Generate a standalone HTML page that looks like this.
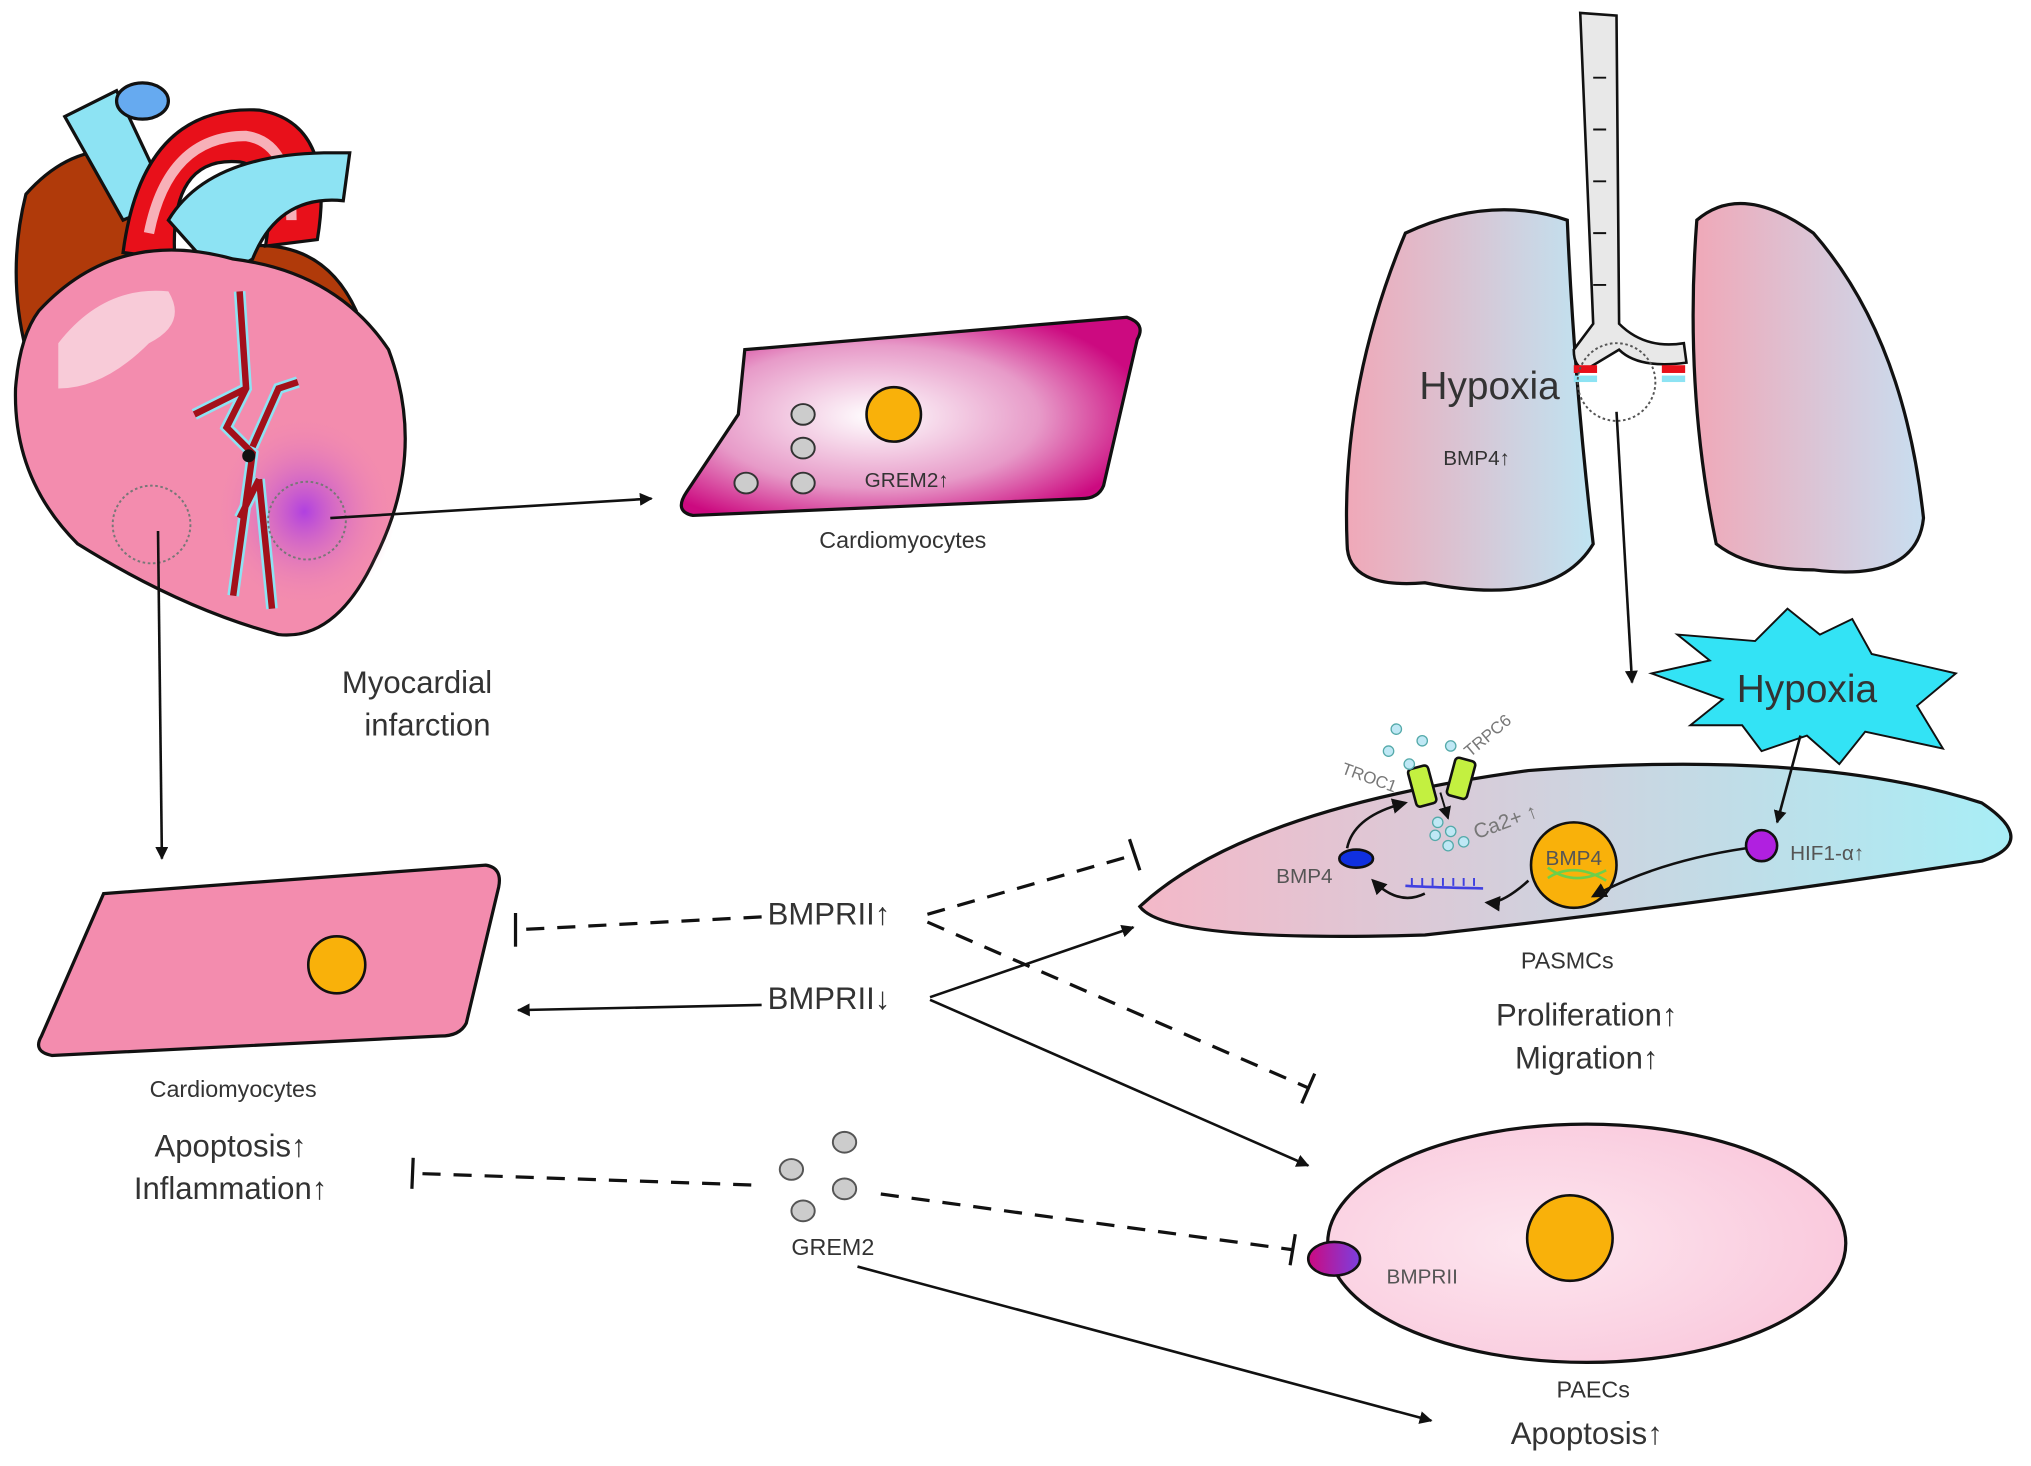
<!DOCTYPE html>
<html><head><meta charset="utf-8"><style>
html,body{margin:0;padding:0;background:#fff;}
svg{display:block;}
text{font-family:"Liberation Sans",sans-serif;fill:#333;}
</style></head><body>
<svg width="2031" height="1466" viewBox="0 0 1568 1132" preserveAspectRatio="none" xmlns="http://www.w3.org/2000/svg">
<defs>
<marker id="ah" markerWidth="10" markerHeight="10" refX="9" refY="5" orient="auto" markerUnits="userSpaceOnUse"><path d="M0,0 L10,5 L0,10 Z" fill="#111"/></marker>
<marker id="ahs" markerWidth="12" markerHeight="12" refX="10" refY="6" orient="auto" markerUnits="userSpaceOnUse"><path d="M0,0 L12,6 L0,12 Z" fill="#111"/></marker>
<radialGradient id="cm1" cx="0.42" cy="0.5" r="0.6"><stop offset="0" stop-color="#fff"/><stop offset="0.6" stop-color="#e79ac8"/><stop offset="1" stop-color="#cc0a80"/></radialGradient>
<linearGradient id="lung" x1="0" x2="1"><stop offset="0" stop-color="#f0a8b8"/><stop offset="1" stop-color="#bfe4f2"/></linearGradient>
<linearGradient id="lungR" x1="0" x2="1"><stop offset="0" stop-color="#f0a8b8"/><stop offset="1" stop-color="#c8def0"/></linearGradient>
<linearGradient id="pas" x1="0" x2="1"><stop offset="0" stop-color="#f4b8c8"/><stop offset="1" stop-color="#a8eef6"/></linearGradient>
<radialGradient id="pae" cx="0.4" cy="0.5" r="0.7"><stop offset="0" stop-color="#fde6ef"/><stop offset="1" stop-color="#f9c5da"/></radialGradient>
<radialGradient id="glow" cx="0.5" cy="0.5" r="0.5"><stop offset="0" stop-color="#b040e0"/><stop offset="1" stop-color="#f48cb0" stop-opacity="0"/></radialGradient>
<linearGradient id="rec" x1="0" x2="1"><stop offset="0" stop-color="#cc0a80"/><stop offset="1" stop-color="#7b3fe0"/></linearGradient>
</defs>

<!-- HEART -->
<path d="M20,150 Q60,105 110,120 L120,250 L20,270 Q5,210 20,150Z" fill="#b03a0a" stroke="#111" stroke-width="2.5"/>
<path d="M190,190 Q250,185 275,240 L265,260 L195,250Z" fill="#b03a0a" stroke="#111" stroke-width="2.5"/>
<path d="M50,90 L90,70 L130,155 L95,170Z" fill="#8de3f3" stroke="#111" stroke-width="2.5"/>
<ellipse cx="110" cy="78" rx="20" ry="14" fill="#66aaf0" stroke="#111" stroke-width="2.5"/>
<path d="M95,195 Q110,80 200,85 Q260,95 245,185 L205,190 Q215,130 185,125 Q130,120 135,200Z" fill="#e8101a" stroke="#111" stroke-width="2.5"/>
<path d="M115,180 Q130,105 190,105 Q225,110 225,170" fill="none" stroke="#f7b0b8" stroke-width="8"/>
<path d="M130,170 Q160,120 250,118 L270,118 L265,155 Q215,150 195,200 L170,215Z" fill="#8de3f3" stroke="#111" stroke-width="2.5"/>
<path d="M30,240 Q90,175 180,200 Q260,210 300,270 Q330,350 290,430 Q260,495 215,490 Q140,470 60,420 Q10,370 12,300 Q15,260 30,240Z" fill="#f38cae" stroke="#111" stroke-width="2.5"/>
<ellipse cx="235" cy="395" rx="70" ry="75" fill="url(#glow)"/>
<path d="M45,265 Q80,220 130,225 Q145,250 115,265 Q80,300 45,300Z" fill="#f8cbd8"/>
<path d="M185,225 L190,300 L175,330 L195,350 L180,460 M190,300 L150,320 M195,345 L215,300 L230,295 M200,370 L210,470 M200,370 L185,400" fill="none" stroke="#8de3f3" stroke-width="9"/>
<path d="M185,225 L190,300 L175,330 L195,350 L180,460 M190,300 L150,320 M195,345 L215,300 L230,295 M200,370 L210,470 M200,370 L185,400" fill="none" stroke="#a3101a" stroke-width="5"/>
<circle cx="192" cy="352" r="5" fill="#111"/>
<circle cx="117" cy="405" r="30" fill="none" stroke="#777" stroke-width="1.5" stroke-dasharray="2,2"/>
<circle cx="237" cy="402" r="30" fill="none" stroke="#777" stroke-width="1.5" stroke-dasharray="2,2"/>
<line x1="255" y1="400" x2="503" y2="385" stroke="#111" stroke-width="2" marker-end="url(#ah)"/>
<line x1="122" y1="410" x2="125" y2="663" stroke="#111" stroke-width="2" marker-end="url(#ah)"/>
<text x="322" y="535" font-size="24" text-anchor="middle">Myocardial</text>
<text x="330" y="568" font-size="24" text-anchor="middle">infarction</text>

<!-- Top cardiomyocyte -->
<path d="M575,270 L870,245 Q885,250 878,262 L852,375 Q848,385 835,385 L535,398 Q520,395 530,380 L570,320Z" fill="url(#cm1)" stroke="#111" stroke-width="2.5"/>
<circle cx="690" cy="320" r="21" fill="#f9b10a" stroke="#111" stroke-width="2"/>
<ellipse cx="620" cy="320" rx="9" ry="8" fill="#ccc" stroke="#333" stroke-width="1.5"/>
<ellipse cx="620" cy="346" rx="9" ry="8" fill="#ccc" stroke="#333" stroke-width="1.5"/>
<ellipse cx="620" cy="373" rx="9" ry="8" fill="#ccc" stroke="#333" stroke-width="1.5"/>
<ellipse cx="576" cy="373" rx="9" ry="8" fill="#ccc" stroke="#333" stroke-width="1.5"/>
<text x="700" y="376" font-size="16" text-anchor="middle">GREM2↑</text>
<text x="697" y="423" font-size="18" text-anchor="middle">Cardiomyocytes</text>

<!-- Lungs -->
<path d="M1085,180 Q1150,150 1210,170 Q1215,290 1230,420 Q1200,470 1100,450 Q1040,455 1040,420 Q1035,300 1085,180Z" fill="url(#lung)" stroke="#111" stroke-width="2.5"/>
<path d="M1310,170 Q1345,140 1400,180 Q1470,260 1485,400 Q1480,450 1400,440 Q1350,440 1325,420 Q1300,300 1310,170Z" fill="url(#lungR)" stroke="#111" stroke-width="2.5"/>
<path d="M1220,10 L1248,12 L1250,250 Q1270,270 1300,265 L1302,280 Q1265,285 1250,270 L1225,285 Q1215,285 1215,270 L1230,250Z" fill="#e8e8e8" stroke="#111" stroke-width="2"/>
<path d="M1230,60 L1240,60 M1230,100 L1240,100 M1230,140 L1240,140 M1230,180 L1240,180 M1230,220 L1240,220" stroke="#111" stroke-width="1.5"/>
<rect x="1215" y="282" width="18" height="6" fill="#e8101a"/><rect x="1215" y="290" width="18" height="5" fill="#8de3f3"/>
<rect x="1283" y="282" width="18" height="6" fill="#e8101a"/><rect x="1283" y="290" width="18" height="5" fill="#8de3f3"/>
<circle cx="1248" cy="295" r="30" fill="none" stroke="#555" stroke-width="1.5" stroke-dasharray="2,2"/>
<text x="1150" y="308" font-size="30" text-anchor="middle">Hypoxia</text>
<text x="1140" y="359" font-size="16" text-anchor="middle">BMP4↑</text>
<line x1="1248" y1="318" x2="1260" y2="527" stroke="#111" stroke-width="2" marker-end="url(#ah)"/>

<!-- Hypoxia star -->
<path d="M1295,490 L1355,495 L1380,470 L1405,490 L1430,478 L1445,505 L1510,520 L1480,545 L1500,578 L1440,565 L1420,590 L1395,568 L1360,580 L1345,560 L1305,560 L1330,540 L1275,520 L1320,510Z" fill="#33e3f5" stroke="#111" stroke-width="1.5"/>
<text x="1395" y="542" font-size="30" text-anchor="middle">Hypoxia</text>

<!-- PASMC -->
<path d="M880,700 Q960,625 1180,595 Q1400,578 1530,620 Q1575,650 1530,665 Q1300,700 1100,722 Q900,728 880,700Z" fill="url(#pas)" stroke="#111" stroke-width="2.5"/>
<line x1="1390" y1="568" x2="1372" y2="635" stroke="#111" stroke-width="2" marker-end="url(#ah)"/>
<rect x="1090" y="592" width="16" height="30" rx="3" fill="#c3f040" stroke="#111" stroke-width="2" transform="rotate(-15 1098 607)"/>
<rect x="1120" y="586" width="16" height="30" rx="3" fill="#c3f040" stroke="#111" stroke-width="2" transform="rotate(15 1128 601)"/>
<text x="1035" y="597" font-size="13" transform="rotate(20 1035 597)" style="fill:#777">TROC1</text>
<text x="1135" y="585" font-size="13" transform="rotate(-40 1135 585)" style="fill:#777">TRPC6</text>
<g fill="#bfe8f5" stroke="#5aa" stroke-width="1">
<circle cx="1078" cy="563" r="4"/><circle cx="1098" cy="572" r="4"/><circle cx="1120" cy="576" r="4"/><circle cx="1072" cy="580" r="4"/><circle cx="1088" cy="590" r="4"/>
<circle cx="1110" cy="635" r="4"/><circle cx="1120" cy="642" r="4"/><circle cx="1130" cy="650" r="4"/><circle cx="1118" cy="653" r="4"/><circle cx="1108" cy="645" r="4"/></g>
<text x="1140" y="648" font-size="16" transform="rotate(-20 1140 648)" style="fill:#777">Ca2+ ↑</text>
<line x1="1112" y1="612" x2="1118" y2="632" stroke="#111" stroke-width="1.5" marker-end="url(#ah)"/>
<circle cx="1215" cy="668" r="33" fill="#f9b10a" stroke="#111" stroke-width="2"/>
<text x="1215" y="668" font-size="16" text-anchor="middle" style="fill:#555">BMP4</text>
<path d="M1195,678 Q1215,665 1240,680 M1195,670 Q1215,685 1240,672" stroke="#6cd04a" stroke-width="2" fill="none"/>
<circle cx="1360" cy="653" r="12" fill="#b020e0" stroke="#111" stroke-width="2"/>
<text x="1382" y="664" font-size="16" style="fill:#555">HIF1-α↑</text>
<path d="M1348,655 Q1280,665 1230,692" fill="none" stroke="#111" stroke-width="2" marker-end="url(#ahs)"/>
<path d="M1180,680 Q1160,698 1148,697" fill="none" stroke="#111" stroke-width="2" marker-end="url(#ahs)"/>
<path d="M1085,684 Q1100,685 1145,686" fill="none" stroke="#4040e0" stroke-width="2"/>
<path d="M1090,684 L1090,678 M1098,684 L1098,678 M1106,684 L1106,678 M1114,684 L1114,678 M1122,684 L1122,678 M1130,684 L1130,678 M1138,684 L1138,678" stroke="#4040e0" stroke-width="1.5"/>
<path d="M1100,690 Q1080,700 1060,680" fill="none" stroke="#111" stroke-width="2" marker-end="url(#ahs)"/>
<ellipse cx="1047" cy="663" rx="13" ry="7" fill="#1030e0" stroke="#111" stroke-width="2"/>
<path d="M1040,655 Q1045,630 1085,620" fill="none" stroke="#111" stroke-width="2" marker-end="url(#ahs)"/>
<text x="1007" y="682" font-size="16" text-anchor="middle" style="fill:#555">BMP4</text>
<text x="1210" y="748" font-size="18" text-anchor="middle">PASMCs</text>
<text x="1225" y="792" font-size="24" text-anchor="middle">Proliferation↑</text>
<text x="1225" y="825" font-size="24" text-anchor="middle">Migration↑</text>

<!-- Bottom cardiomyocyte -->
<path d="M80,690 L375,668 Q388,670 385,685 L360,790 Q355,800 340,800 L40,815 Q25,812 32,800Z" fill="#f38cae" stroke="#111" stroke-width="2.5"/>
<circle cx="260" cy="745" r="22" fill="#f9b10a" stroke="#111" stroke-width="2"/>
<text x="180" y="847" font-size="18" text-anchor="middle">Cardiomyocytes</text>
<text x="178" y="893" font-size="24" text-anchor="middle">Apoptosis↑</text>
<text x="178" y="926" font-size="24" text-anchor="middle">Inflammation↑</text>

<!-- BMPRII labels and connectors -->
<text x="640" y="714" font-size="24" text-anchor="middle">BMPRII↑</text>
<text x="640" y="779" font-size="24" text-anchor="middle">BMPRII↓</text>
<g stroke="#111" stroke-width="2.5" fill="none">
<line x1="588" y1="708" x2="398" y2="718" stroke-dasharray="14,10"/>
<line x1="398" y1="705" x2="398" y2="731"/>
<line x1="716" y1="706" x2="876" y2="660" stroke-dasharray="14,10"/>
<line x1="872" y1="648" x2="880" y2="672"/>
<line x1="716" y1="712" x2="1010" y2="840" stroke-dasharray="14,10"/>
<line x1="1015" y1="829" x2="1005" y2="852"/>
<line x1="588" y1="776" x2="400" y2="780" stroke-width="2" marker-end="url(#ah)"/>
<line x1="718" y1="770" x2="875" y2="716" stroke-width="2" marker-end="url(#ah)"/>
<line x1="718" y1="772" x2="1010" y2="900" stroke-width="2" marker-end="url(#ah)"/>
<line x1="580" y1="915" x2="318" y2="906" stroke-dasharray="14,10"/>
<line x1="319" y1="894" x2="318" y2="918"/>
<line x1="680" y1="922" x2="998" y2="965" stroke-dasharray="14,10"/>
<line x1="1000" y1="953" x2="996" y2="977"/>
<line x1="662" y1="978" x2="1105" y2="1097" stroke-width="2" marker-end="url(#ah)"/>
</g>
<g fill="#ccc" stroke="#555" stroke-width="1.5">
<ellipse cx="652" cy="882" rx="9" ry="8"/><ellipse cx="611" cy="903" rx="9" ry="8"/><ellipse cx="652" cy="918" rx="9" ry="8"/><ellipse cx="620" cy="935" rx="9" ry="8"/></g>
<text x="643" y="969" font-size="18" text-anchor="middle">GREM2</text>

<!-- PAEC -->
<ellipse cx="1225" cy="960" rx="200" ry="92" fill="url(#pae)" stroke="#111" stroke-width="2.5"/>
<circle cx="1212" cy="956" r="33" fill="#f9b10a" stroke="#111" stroke-width="2"/>
<ellipse cx="1030" cy="972" rx="20" ry="13" fill="url(#rec)" stroke="#111" stroke-width="2"/>
<text x="1098" y="991" font-size="16" text-anchor="middle" style="fill:#555">BMPRII</text>
<text x="1230" y="1079" font-size="18" text-anchor="middle">PAECs</text>
<text x="1225" y="1115" font-size="24" text-anchor="middle">Apoptosis↑</text>
</svg>
</body></html>
